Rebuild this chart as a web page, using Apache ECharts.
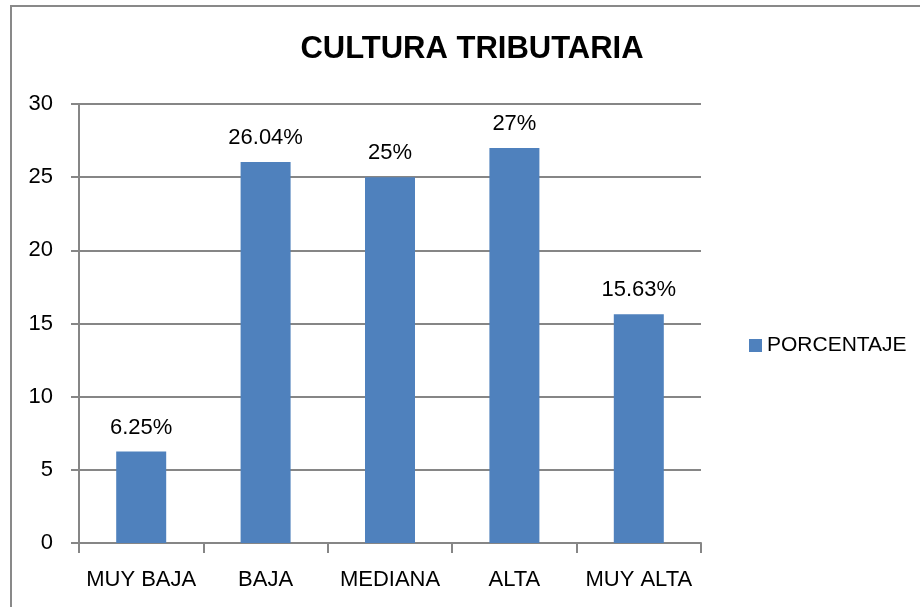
<!DOCTYPE html>
<html>
<head>
<meta charset="utf-8">
<script src="https://cdn.jsdelivr.net/npm/echarts@6/dist/echarts.min.js"></script>
<style>
html,body{margin:0;padding:0;background:#fff;}
#frame{position:absolute;left:10px;top:5px;width:930px;height:620px;border-left:2px solid #898989;border-top:2px solid #898989;box-sizing:border-box;}
#c{position:absolute;left:0;top:0;width:920px;height:607px;}
</style>
</head>
<body>
<div id="frame"></div>
<div id="c"></div>
<script>
const categories = ['MUY BAJA', 'BAJA', 'MEDIANA', 'ALTA', 'MUY ALTA'];
const values = [6.25, 26.04, 25, 27, 15.63];
const seriesName = 'PORCENTAJE';
const titleText = 'CULTURA TRIBUTARIA';

const font = '"Liberation Sans", Arial, sans-serif';
const chart = echarts.init(document.getElementById('c'), null, {renderer: 'canvas'});
chart.setOption({
  animation: false,
  backgroundColor: 'transparent',
  title: {
    text: titleText,
    left: 467, top: 29, textAlign: 'center',
    textStyle: {fontFamily: font, fontWeight: 'bold', fontSize: 31, color: '#000'}
  },
  legend: {
    data: [seriesName],
    left: 744, top: 330,
    itemWidth: 13, itemHeight: 13, itemGap: 10,
    icon: 'rect',
    textStyle: {fontFamily: font, fontSize: 21, color: '#000'}
  },
  grid: {left: 79, right: 219, top: 104, bottom: 64, containLabel: false},
  xAxis: {
    type: 'category',
    data: categories,
    axisLine: {lineStyle: {color: '#868686', width: 2}},
    axisTick: {show: true, interval: 0, length: 10, lineStyle: {color: '#868686', width: 2}},
    axisLabel: {interval: 0, fontFamily: font, fontSize: 22, color: '#000', margin: 26}
  },
  yAxis: {
    type: 'value',
    min: 0, max: 30, interval: 5,
    axisLine: {show: true, lineStyle: {color: '#868686', width: 2}},
    axisTick: {show: true, length: 8, lineStyle: {color: '#868686', width: 2}},
    axisLabel: {fontFamily: font, fontSize: 22, color: '#000', margin: 26},
    splitLine: {lineStyle: {color: '#868686', width: 2}}
  },
  series: [{
    name: seriesName,
    type: 'bar',
    data: values,
    barWidth: 50,
    itemStyle: {color: '#4F81BD'},
    label: {
      show: true, position: 'top', distance: 13,
      fontFamily: font, fontSize: 22, color: '#000',
      formatter: p => p.value + '%'
    }
  }]
});
</script>
</body>
</html>
